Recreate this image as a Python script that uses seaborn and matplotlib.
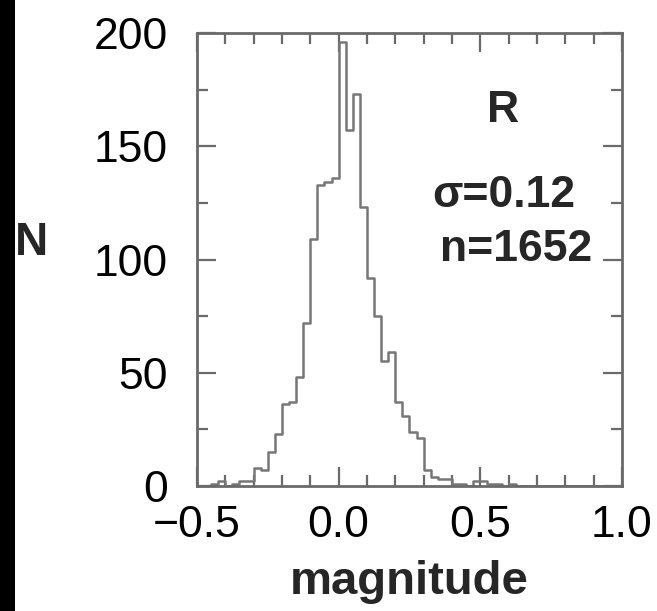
import numpy as np
import pandas as pd
import matplotlib
matplotlib.use("Agg")
import matplotlib.pyplot as plt
from matplotlib.patches import Rectangle
from matplotlib.ticker import MultipleLocator
import seaborn as sns

# Residual histogram, bins of 0.025 mag from -0.5 to 1.0
bin_width = 0.025
bin_left = np.round(np.arange(-0.5, 1.0, bin_width), 3)
counts = [
    0, 0, 1, 2, 0, 1, 2, 2, 8, 7,
    15, 23, 36, 37, 48, 72, 109, 133, 134, 136,
    196, 157, 173, 123, 92, 75, 55, 59, 37, 31,
    24, 21, 7, 4, 3, 3, 1, 1, 0, 2,
    2, 1, 1, 0, 1, 0, 0, 0, 0, 0,
    0, 0, 0, 0, 0, 0, 0, 0, 0, 0,
]
band = "R"
sigma_text = "σ=0.12"
n_text = "n=1652"
x_ticks = [-0.5, 0.0, 0.5, 1.0]
y_ticks = [0, 50, 100, 150, 200]

df = pd.DataFrame({"mag": bin_left + bin_width / 2, "N": counts})

sns.set_style("ticks")
plt.rcParams["font.family"] = ["Liberation Sans", "DejaVu Sans"]

fig = plt.figure(figsize=(6.57, 6.11), dpi=100)
fig.patch.set_facecolor("white")
ax = fig.add_axes([197 / 657, 1 - 486 / 611, 425 / 657, 453 / 611])

line_grey = "#777777"
frame_grey = "#6a6a6a"

sns.histplot(data=df, x="mag", weights="N", binwidth=bin_width,
             binrange=(-0.5, 1.0), element="step", fill=False,
             color=line_grey, linewidth=1.8, ax=ax)

ax.set_xlim(-0.5, 1.0)
ax.set_ylim(0, 200)
ax.set_xticks(x_ticks)
ax.set_xticklabels([f"{v:.1f}".replace("-", "\u2212") for v in x_ticks])
ax.set_yticks(y_ticks)
ax.xaxis.set_minor_locator(MultipleLocator(0.1))
ax.yaxis.set_minor_locator(MultipleLocator(25))

for s in ax.spines.values():
    s.set_color(frame_grey)
    s.set_linewidth(2.0)

ax.tick_params(which="both", direction="in", top=True, right=True,
               color=frame_grey, width=1.6, labelsize=32, labelcolor="black")
ax.tick_params(which="major", length=14)
ax.tick_params(which="minor", length=8)
ax.tick_params(axis="y", which="major", pad=21)
ax.tick_params(axis="x", which="major", pad=14)

ax.set_xlabel("magnitude", fontsize=34, fontweight="bold", labelpad=10)
ax.set_ylabel("")
fig.text(32 / 657, 1 - 243 / 611, "N", fontsize=33, fontweight="bold",
         ha="center", va="center")

ax.text(0.72, 0.83, band, transform=ax.transAxes, fontsize=32,
        fontweight="bold", ha="center", va="center")
ax.text(0.722, 0.642, sigma_text, transform=ax.transAxes, fontsize=32,
        fontweight="bold", ha="center", va="center")
ax.text(0.751, 0.521, n_text, transform=ax.transAxes, fontsize=32,
        fontweight="bold", ha="center", va="center")

# dark strip along the left edge of the panel
fig.patches.append(Rectangle((0, 0), 15 / 657, 1, transform=fig.transFigure,
                             facecolor="black", edgecolor="none", zorder=10))

fig.savefig("out.png", dpi=100)
